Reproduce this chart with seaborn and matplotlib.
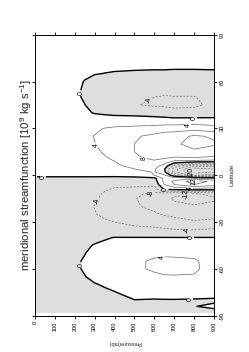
import numpy as np
import matplotlib
matplotlib.use("Agg")
import matplotlib.pyplot as plt
import seaborn as sns

# latitude (deg) and pressure levels (mb) of the streamfunction grid
lat = [-88, -84, -80, -75, -70, -65, -60, -55, -50, -45,
       -40, -35, -30, -25, -20, -15, -12, -9, -6, -4,
       -2, 0, 2, 4, 6, 8, 10, 12, 15, 20,
       25, 30, 35, 40, 45, 50, 55, 60, 65, 70,
       75, 80, 88]
plev = [10, 100, 200, 250, 300, 350, 400, 500, 600, 650, 700, 800, 900]

# streamfunction [10^9 kg/s], one list per pressure level (values along lat)
psi_10 = [-0.4, -0.4, -0.4, -0.4, -0.4, -0.4, -0.4, -0.4, -0.4, -0.4,
          -0.4, -0.5, -0.5, -0.5, -0.5, -0.5, -0.5, -0.5, -0.5, -0.4,
          -0.3, 0.3, 0.4, 0.5, 0.5, 0.5, 0.5, 0.5, 0.5, 0.5,
          0.5, 0.5, 0.5, 0.5, 0.5, 0.5, 0.5, 0.5, 0.5, 0.4,
          0.4, 0.3, 0.3]
psi_100 = [-0.8, -0.9, -0.9, -0.9, -0.9, -0.9, -0.8, -0.8, -0.8, -0.9,
           -1.0, -1.1, -1.2, -1.3, -1.3, -1.3, -1.2, -1.1, -1.0, -0.8,
           -0.6, 0.6, 1.0, 1.2, 1.3, 1.4, 1.5, 1.5, 1.6, 1.7,
           1.7, 1.6, 1.3, 1.0, 0.8, 0.7, 0.6, 0.6, 0.6, 0.5,
           0.5, 0.4, 0.3]
psi_200 = [-0.8, -0.9, -1.0, -1.0, -0.9, -0.7, -0.5, -0.5, -0.7, -1.0,
           -1.3, -1.7, -2.2, -2.5, -2.6, -2.4, -2.2, -1.8, -1.5, -1.2,
           -0.7, 0.7, 1.2, 1.5, 1.8, 2.0, 2.2, 2.4, 2.6, 2.8,
           2.8, 2.5, 1.8, 1.2, 0.8, 0.5, 0.5, 0.6, 0.7, 0.6,
           0.5, 0.4, 0.2]
psi_250 = [-0.6, -0.85, -1.0, -0.9, -0.6, -0.1, 0.3, 0.3, -0.1, -0.5,
           -1.1, -1.9, -2.6, -3.2, -3.4, -3.0, -2.6, -2.2, -1.8, -1.4,
           -0.8, 0.8, 1.4, 1.8, 2.2, 2.4, 2.6, 2.8, 3.0, 3.4,
           3.5, 3.0, 1.8, 0.5, 0.05, -0.3, -0.3, -0.1, 0.4, 0.55,
           0.5, 0.4, 0.2]
psi_300 = [-0.5, -0.8, -1.0, -0.8, -0.2, 0.8, 1.5, 1.5, 1.0, 0.2,
           -0.8, -2.0, -3.0, -3.8, -4.1, -3.5, -3.0, -2.5, -2.0, -1.5,
           -0.8, 0.8, 1.5, 2.0, 2.5, 2.8, 3.0, 3.2, 3.5, 3.9,
           4.1, 3.5, 1.5, -0.2, -1.0, -1.2, -1.2, -0.8, 0.1, 0.5,
           0.5, 0.4, 0.2]
psi_350 = [-0.4, -0.65, -0.8, -0.5, 0.3, 1.4, 2.0, 2.0, 1.5, 0.6,
           -0.3, -2.2, -3.5, -4.7, -5.3, -5.0, -4.5, -3.5, -2.5, -1.9,
           -1.0, 0.9, 1.8, 2.4, 2.9, 3.3, 3.6, 3.9, 4.3, 5.0,
           5.1, 4.1, 1.5, -0.5, -1.5, -1.6, -1.5, -0.9, -0.05, 0.5,
           0.45, 0.35, 0.2]
psi_400 = [-0.3, -0.5, -0.6, -0.1, 0.8, 2.0, 2.5, 2.5, 2.0, 1.0,
           0.1, -2.5, -4.0, -5.5, -6.5, -6.5, -6.0, -4.5, -3.0, -2.2,
           -1.2, 1.0, 2.0, 2.8, 3.3, 3.8, 4.2, 4.6, 5.2, 6.0,
           6.0, 4.6, 1.5, -0.8, -2.0, -2.0, -1.8, -1.0, -0.2, 0.5,
           0.4, 0.3, 0.2]
psi_500 = [-0.3, -0.3, -0.05, 1.0, 2.0, 3.0, 3.6, 3.6, 3.0, 1.8,
           0.1, -3.0, -5.0, -6.5, -7.5, -7.8, -7.2, -5.0, -3.0, -2.2,
           -1.2, 1.5, 2.8, 4.0, 5.0, 6.0, 7.0, 7.6, 8.0, 8.0,
           7.5, 5.0, 1.5, -1.0, -3.8, -3.5, -2.5, -1.5, -0.3, 0.4,
           0.3, 0.2, 0.1]
psi_600 = [-0.4, -0.3, -0.2, 1.3, 2.5, 3.6, 4.3, 4.3, 3.5, 2.0,
           0.1, -3.2, -5.5, -7.5, -9.0, -9.5, -9.0, -6.0, -3.0, -2.0,
           -1.0, 4.1, 4.2, 4.5, 5.5, 7.0, 8.2, 9.0, 9.5, 10.0,
           9.0, 5.5, 1.5, -1.5, -4.5, -4.0, -3.0, -1.8, -0.4, 0.4,
           0.3, 0.2, 0.1]
psi_650 = [-0.45, -0.3, -0.15, 1.4, 2.7, 3.8, 4.6, 4.5, 3.6, 2.1,
           0.1, -3.5, -6.0, -8.3, -10.0, -11.0, -10.0, 0.3, 4.0, 5.0,
           5.0, 4.5, 1.0, 0.5, 2.5, 5.5, 7.5, 9.0, 10.0, 11.0,
           10.0, 6.0, 1.5, -2.0, -4.6, -4.2, -3.2, -2.0, -0.4, 0.4,
           0.3, 0.2, 0.1]
psi_700 = [-0.5, -0.3, -0.15, 1.5, 2.8, 3.8, 4.8, 4.5, 3.5, 2.2,
           0.1, -3.8, -6.5, -9.0, -11.0, -12.5, -11.0, 1.0, 8.0, 9.0,
           6.0, -3.0, -10.0, -10.0, -5.0, 0.5, 6.0, 8.5, 10.5, 11.5,
           10.5, 6.0, 1.5, -2.8, -4.8, -4.1, -3.2, -2.0, -0.5, 0.4,
           0.3, 0.2, 0.1]
psi_800 = [-0.6, -0.05, -0.2, 1.2, 2.6, 3.8, 4.4, 4.3, 3.4, 2.0,
           0.1, -4.0, -7.5, -10.0, -11.5, -14.0, -12.5, 2.0, 12.0, 14.0,
           6.0, -16.0, -22.0, -22.0, -15.0, -2.0, 6.0, 9.0, 11.5, 13.0,
           12.5, 6.5, 1.5, -2.8, -4.6, -4.1, -3.3, -2.0, -0.5, 0.4,
           0.3, 0.2, 0.1]
psi_900 = [-0.5, 0.3, -0.3, 1.0, 2.0, 3.0, 3.0, 3.0, 2.6, 1.5,
           0.1, -3.5, -7.0, -9.5, -11.0, -12.5, -11.0, 1.5, 10.0, 11.0,
           4.0, -15.0, -20.0, -20.0, -14.0, -2.0, 5.0, 8.0, 10.0, 12.5,
           11.5, 5.5, 1.5, -2.5, -3.2, -3.2, -2.5, -1.5, -0.3, 0.3,
           0.3, 0.2, 0.1]

pres_ticks = [0, 100, 200, 300, 400, 500, 600, 700, 800, 900]
lat_ticks = [-90, -60, -30, 0, 30, 60, 90]

psi = np.array([psi_10, psi_100, psi_200, psi_250, psi_300, psi_350, psi_400,
                psi_500, psi_600, psi_650, psi_700, psi_800, psi_900]).T
P, LAT = np.meshgrid(plev, lat)

sns.set_style("white")
plt.rcParams['font.family'] = ['Liberation Sans', 'DejaVu Sans']
plt.rcParams['mathtext.fontset'] = 'custom'
plt.rcParams['mathtext.rm'] = 'Liberation Sans'
plt.rcParams['mathtext.it'] = 'Liberation Sans'
plt.rcParams['axes.unicode_minus'] = False

fig = plt.figure(figsize=(2.49, 3.52), dpi=100)
ax = fig.add_axes([35 / 249, 1 - 315.7 / 352, 179 / 249, 281 / 352])

# shade negative circulation
ax.contourf(P, LAT, psi, levels=[-100, 0], colors=['#dedede'])
pos = ax.contour(P, LAT, psi, levels=[4, 8, 12, 16, 20], colors='#666666',
                 linewidths=0.5, linestyles='solid')
neg = ax.contour(P, LAT, psi, levels=[-24, -20, -16, -12, -8, -4], colors='#707070',
                 linewidths=0.5, linestyles=[(0, (3, 2))])
zero = ax.contour(P, LAT, psi, levels=[0], colors='black', linewidths=1.0)

fmt = lambda v: f"{v:g}"
lab_kw = dict(fmt=fmt, fontsize=5, inline=True, inline_spacing=1, colors='black')
texts = []
texts += ax.clabel(zero, manual=[(40, -1), (242, 52.6), (800, 38.5), (242, -57.6),
                                 (785, -40), (657, -9), (780, -82.5)], **lab_kw)
texts += ax.clabel(pos, manual=[(770, 34.3), (318, 20), (553, 13), (642, -53.3),
                                (801, -3.1), (780, -9)], **lab_kw)
texts += ax.clabel(neg, manual=[(570, 48.6), (327, -17.6), (587, -12.7), (765, -14.8),
                                (763, -35), (779, 2.2)], **lab_kw)
for t in texts:
    t.set_rotation(90)

ax.set_xlim(0, 900)
ax.set_ylim(-90, 90)
ax.set_xticks(pres_ticks)
ax.set_yticks(lat_ticks)
ax.set_xticklabels([str(v) for v in pres_ticks], rotation=90)
ax.set_yticklabels([str(v) for v in lat_ticks], rotation=90, va='center')
ax.tick_params(direction='out', length=2.5, width=0.6, labelsize=4, pad=1.5,
               top=True, bottom=True, left=True, right=True,
               labelleft=False, labelright=True, colors='black')
for s in ax.spines.values():
    s.set_visible(True)
    s.set_linewidth(0.7)
    s.set_color('black')

fig.text(26 / 249, 1 - 175.5 / 352,
         'meridional streamfunction [10$^{9}$ kg s$^{-1}$]',
         rotation=90, ha='center', va='center', fontsize=8.2)
fig.text(232 / 249, 1 - 175 / 352, 'Latitude', rotation=90,
         ha='center', va='center', fontsize=4.5)
fig.text(124.5 / 249, 1 - 342 / 352, 'Pressure(mb)', rotation=180,
         ha='center', va='center', fontsize=4)

fig.savefig('out.png', dpi=100)
